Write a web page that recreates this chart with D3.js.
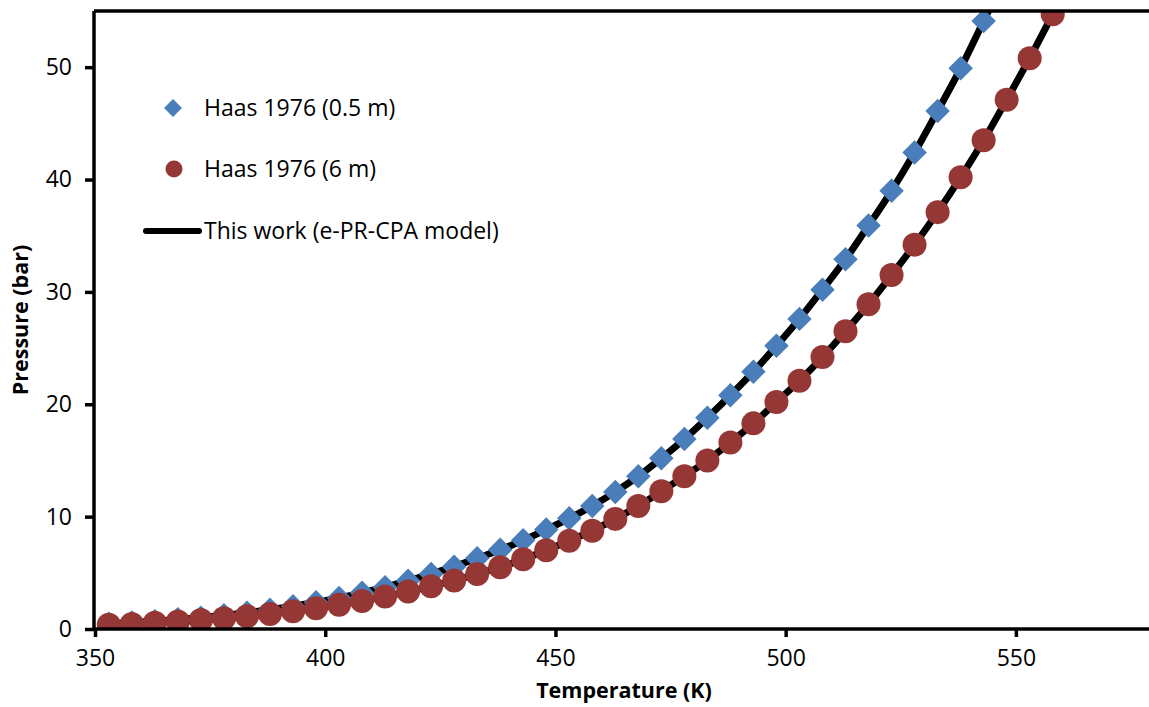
<!DOCTYPE html>
<html>
<head>
<meta charset="utf-8">
<script src="https://cdn.jsdelivr.net/npm/d3@7"></script>
<style>
  body { margin: 0; background: #fff; }
  svg { display: block; font-family: "Open Sans", sans-serif; }
</style>
</head>
<body>
<div id="chart"></div>
<script>
// temperatures (K) of the measured points
var tempLow = [353, 358, 363, 368, 373, 378, 383, 388, 393, 398, 403, 408, 413, 418, 423, 428, 433, 438, 443, 448,
    453, 458, 463, 468, 473, 478, 483, 488, 493, 498, 503, 508, 513, 518, 523, 528, 533, 538, 543];
var tempHigh = tempLow.concat([548, 553, 558]);

// Haas 1976, 0.5 m
var haas05 = [0.46, 0.57, 0.7, 0.86, 1.0, 1.22, 1.45, 1.72, 2.03, 2.38, 2.77, 3.22, 3.72, 4.3, 4.9, 5.55, 6.3, 7.05, 7.9, 8.85,
    9.85, 10.95, 12.2, 13.6, 15.2, 16.9, 18.8, 20.8, 22.9, 25.2, 27.6, 30.2, 32.9, 35.9, 39.0, 42.4, 46.1, 49.9, 54.1];
// Haas 1976, 6 m
var haas6 = [0.37, 0.45, 0.55, 0.67, 0.8, 0.96, 1.13, 1.34, 1.58, 1.85, 2.15, 2.5, 2.9, 3.33, 3.8, 4.32, 4.9, 5.5, 6.2, 7.0,
    7.85, 8.75, 9.8, 10.95, 12.25, 13.6, 15.0, 16.6, 18.3, 20.2, 22.1, 24.2, 26.5, 28.9, 31.5, 34.2, 37.1, 40.2, 43.5,
    47.1, 50.8, 54.7];

// e-PR-CPA model curves
var modelTempLow = tempLow.concat([548]);
var modelLow = haas05.concat([58.4]);
var modelTempHigh = tempHigh.concat([563]);
var modelHigh = haas6.concat([58.6]);

var xTicks = [350, 400, 450, 500, 550];
var yTicks = [0, 10, 20, 30, 40, 50];

var legendLabels = ["Haas 1976 (0.5 m)", "Haas 1976 (6 m)", "This work (e-PR-CPA model)"];

var blue = "#4a7ebb", red = "#953735";

var W = 1149, H = 707;

var svg = d3.select("#chart").append("svg")
    .attr("width", W)
    .attr("height", H);

var x = d3.scaleLinear().domain([350, 580]).range([95, 1154]);
var y = d3.scaleLinear().domain([0, 55]).range([629, 11]);

svg.append("clipPath").attr("id", "plotclip")
    .append("rect")
    .attr("x", 94).attr("y", 11)
    .attr("width", W - 94).attr("height", 618);

var plot = svg.append("g").attr("clip-path", "url(#plotclip)");

var line = d3.line()
    .x(function (d) { return x(d[0]); })
    .y(function (d) { return y(d[1]); })
    .curve(d3.curveMonotoneX);

[[modelTempLow, modelLow], [modelTempHigh, modelHigh]].forEach(function (m) {
    plot.append("path")
        .datum(d3.zip(m[0], m[1]))
        .attr("d", line)
        .attr("fill", "none")
        .attr("stroke", "#000")
        .attr("stroke-width", 7);
});

var diamond = d3.symbol().type(d3.symbolSquare).size(300);

plot.selectAll(".dia")
    .data(d3.zip(tempLow, haas05))
    .enter().append("path")
    .attr("class", "dia")
    .attr("d", diamond)
    .attr("transform", function (d) {
        return "translate(" + x(d[0]) + "," + y(d[1]) + ") rotate(45)";
    })
    .attr("fill", blue);

plot.selectAll(".dot")
    .data(d3.zip(tempHigh, haas6))
    .enter().append("circle")
    .attr("class", "dot")
    .attr("cx", function (d) { return x(d[0]); })
    .attr("cy", function (d) { return y(d[1]); })
    .attr("r", 12)
    .attr("fill", red);

// axes
var xAxis = svg.append("g")
    .attr("transform", "translate(0,629)")
    .call(d3.axisBottom(x).tickValues(xTicks).tickSize(8).tickSizeOuter(0).tickPadding(13));
var yAxis = svg.append("g")
    .attr("transform", "translate(94,0)")
    .call(d3.axisLeft(y).tickValues(yTicks).tickSize(9).tickSizeOuter(0).tickPadding(13));

[xAxis, yAxis].forEach(function (a) {
    a.select(".domain").attr("stroke-width", 3.5);
    a.selectAll(".tick line").attr("stroke-width", 3.5);
    a.selectAll("text").attr("font-size", "23px").attr("fill", "#000")
        .attr("font-family", "Open Sans, sans-serif");
});
xAxis.select(".domain").attr("d", "M94,0H1149");
yAxis.select(".domain").attr("d", "M0,11V629");

// top border
svg.append("line")
    .attr("x1", 94).attr("x2", W)
    .attr("y1", 11).attr("y2", 11)
    .attr("stroke", "#000")
    .attr("stroke-width", 3.5);

// axis titles
svg.append("text")
    .attr("x", 624).attr("y", 698)
    .attr("text-anchor", "middle")
    .attr("font-size", "21.5px")
    .attr("font-weight", "bold")
    .text("Temperature (K)");

svg.append("text")
    .attr("transform", "translate(28,320) rotate(-90)")
    .attr("text-anchor", "middle")
    .attr("font-size", "21.5px")
    .attr("font-weight", "bold")
    .text("Pressure (bar)");

// legend
var leg = svg.append("g");
leg.append("path")
    .attr("d", d3.symbol().type(d3.symbolSquare).size(160))
    .attr("transform", "translate(173,108) rotate(45)")
    .attr("fill", blue);
leg.append("circle")
    .attr("cx", 174).attr("cy", 169).attr("r", 8.5)
    .attr("fill", red);
leg.append("line")
    .attr("x1", 146).attr("x2", 199)
    .attr("y1", 231).attr("y2", 231)
    .attr("stroke", "#000")
    .attr("stroke-width", 6)
    .attr("stroke-linecap", "round");

leg.selectAll(".ltxt")
    .data(legendLabels)
    .enter().append("text")
    .attr("class", "ltxt")
    .attr("x", 204)
    .attr("y", function (d, i) { return [108, 169, 231][i]; })
    .attr("dy", "0.35em")
    .attr("font-size", "23px")
    .text(function (d) { return d; });
</script>
</body>
</html>
